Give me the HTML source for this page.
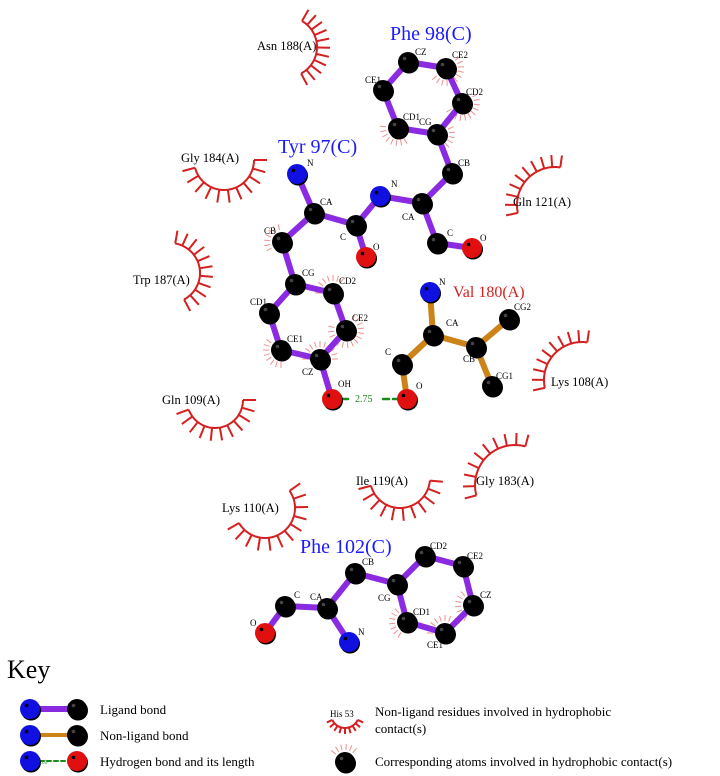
<!DOCTYPE html>
<html><head><meta charset="utf-8"><style>
html,body{margin:0;padding:0;background:#fff;}
svg{display:block;}
text{font-family:"Liberation Serif",serif;}
</style></head><body>
<svg id="s" width="720" height="776" viewBox="0 0 720 776" xmlns="http://www.w3.org/2000/svg">
<g id="arcs" stroke="#d42020" stroke-width="2" fill="none"></g>
<g id="pink" stroke="#f09090" stroke-width="1"></g>
<g id="bonds" stroke-linecap="round"></g>
<g id="atoms"></g>
<g fill="#000" font-size="9">
<!-- Phe98 atom labels -->
<text x="415" y="55">CZ</text><text x="452" y="58">CE2</text><text x="365" y="83">CE1</text><text x="466" y="95">CD2</text><text x="403" y="120">CD1</text><text x="419" y="125">CG</text><text x="458" y="166">CB</text><text x="402" y="220">CA</text><text x="391" y="187">N</text><text x="447" y="236">C</text><text x="480" y="241">O</text>
<!-- Tyr97 -->
<text x="307" y="166">N</text><text x="320" y="205">CA</text><text x="340" y="240">C</text><text x="373" y="250">O</text><text x="264" y="234">CB</text><text x="302" y="276">CG</text><text x="250" y="305">CD1</text><text x="339" y="284">CD2</text><text x="287" y="342">CE1</text><text x="352" y="321">CE2</text><text x="302" y="375">CZ</text><text x="338" y="387">OH</text>
<!-- Val180 -->
<text x="439" y="285">N</text><text x="446" y="326">CA</text><text x="463" y="362">CB</text><text x="514" y="310">CG2</text><text x="496" y="379">CG1</text><text x="385" y="355">C</text><text x="416" y="389">O</text>
<!-- Phe102 -->
<text x="294" y="598">C</text><text x="310" y="600">CA</text><text x="362" y="565">CB</text><text x="378" y="601">CG</text><text x="430" y="549">CD2</text><text x="467" y="559">CE2</text><text x="480" y="598">CZ</text><text x="413" y="615">CD1</text><text x="427" y="648">CE1</text><text x="358" y="635">N</text><text x="250" y="626">O</text>
</g>
<text x="355" y="402" font-size="10" fill="#1a8a1a">2.75</text>
<g fill="#1a1aff" font-size="20">
<text x="390" y="40">Phe 98(C)</text>
<text x="278" y="153">Tyr 97(C)</text>
<text x="300" y="553">Phe 102(C)</text>
</g>
<text x="453" y="297" font-size="16" fill="#d42020">Val 180(A)</text>
<g fill="#000" font-size="12.5">
<text x="257" y="50">Asn 188(A)</text>
<text x="181" y="162">Gly 184(A)</text>
<text x="513" y="206">Gln 121(A)</text>
<text x="133" y="284">Trp 187(A)</text>
<text x="551" y="386">Lys 108(A)</text>
<text x="162" y="404">Gln 109(A)</text>
<text x="356" y="485">Ile 119(A)</text>
<text x="476" y="485">Gly 183(A)</text>
<text x="222" y="512">Lys 110(A)</text>
</g>
<!-- Key -->
<text x="7" y="678" font-size="26" fill="#000">Key</text>
<g font-size="13" fill="#000">
<text x="100" y="714">Ligand bond</text>
<text x="100" y="740">Non-ligand bond</text>
<text x="100" y="766">Hydrogen bond and its length</text>
<text x="375" y="716">Non-ligand residues involved in hydrophobic</text>
<text x="375" y="733">contact(s)</text>
<text x="375" y="766">Corresponding atoms involved in hydrophobic contact(s)</text>
</g>
<text x="330" y="717" font-size="9" fill="#000">His 53</text>
<text x="40" y="764" font-size="6" fill="#1a8a1a">3.0</text>
</svg>
<script>
var NS="http://www.w3.org/2000/svg";
function el(p,t,a){var e=document.createElementNS(NS,t);for(var k in a)e.setAttribute(k,a[k]);document.getElementById(p).appendChild(e);return e;}
function arc(cx,cy,r,a0,a1,n,L){
  var d="";for(var i=0;i<=40;i++){var a=(a0+(a1-a0)*i/40)*Math.PI/180;d+=(i?"L":"M")+(cx+r*Math.cos(a)).toFixed(1)+" "+(cy+r*Math.sin(a)).toFixed(1);}
  el("arcs","path",{d:d});
  for(var i=0;i<n;i++){var a=(a0+(a1-a0)*i/(n-1))*Math.PI/180;
    el("arcs","line",{x1:cx+r*Math.cos(a),y1:cy+r*Math.sin(a),x2:cx+(r+L)*Math.cos(a),y2:cy+(r+L)*Math.sin(a)});}
}
arc(287,47,30,-60,62,11,13);   // Asn188
arc(224,160,30,0,165,11,13);   // Gly184
arc(555,205,38,168,278,10,12); // Gln121
arc(170,273,30,-80,62,11,13);  // Trp187
arc(582,380,38,168,278,10,12); // Lys108
arc(215,400,28,0,160,11,13);   // Gln109
arc(400,478,30,5,165,11,13);   // Ile119
arc(515,485,40,165,285,10,12); // Gly183
arc(265,508,30,-35,150,12,13); // Lys110
arc(345,714,14,25,155,9,6);    // key
function pink(x,y,a0,a1){for(var a=a0;a<=a1;a+=18){var r=a*Math.PI/180;el("pink","line",{x1:x+12*Math.cos(r),y1:y+12*Math.sin(r),x2:x+18*Math.cos(r),y2:y+18*Math.sin(r)});}}
pink(446,68,-40,140);pink(462,103,-30,150);pink(398,128,60,200);pink(437,134,-60,80);
pink(282,242,150,260);pink(333,293,180,320);pink(346,330,-60,200);pink(320,359,180,360);pink(281,350,90,220);
pink(473,605,120,260);pink(407,622,120,260);pink(445,633,180,330);pink(345,762,220,320);
var P="#8a2be2",O="#cc8418";
function b(x1,y1,x2,y2,c,w){el("bonds","line",{x1:x1,y1:y1,x2:x2,y2:y2,stroke:c,"stroke-width":w||6});}
function A(x,y,c){el("atoms","circle",{cx:x+1,cy:y+1.5,r:10,fill:"#000"});el("atoms","circle",{cx:x,cy:y,r:10,fill:c});el("atoms","circle",{cx:x-3.5,cy:y-3.5,r:1.8,fill:c=="#000"?"#444":"#000"});}
// Phe98
var f={CZ:[408,62],CE2:[446,68],CE1:[383,90],CD2:[462,103],CD1:[398,128],CG:[437,134],CB:[452,173],CA:[422,203],N:[380,196],C:[437,243],O:[472,248]};
var t={N:[297,174],CA:[314,213],C:[356,225],O:[366,257],CB:[282,242],CG:[295,284],CD1:[269,313],CD2:[333,293],CE1:[281,350],CE2:[346,330],CZ:[320,359],OH:[332,399]};
var v={N:[430,292],CA:[433,335],CB:[476,347],CG2:[509,319],CG1:[492,386],C:[402,364],O:[407,399]};
var p={C:[285,606],CA:[327,608],CB:[355,573],CG:[397,584],CD2:[425,556],CE2:[463,566],CZ:[473,605],CE1:[445,633],CD1:[407,622],N:[349,642],O:[265,633]};
function B(m,pairs,c){pairs.forEach(function(q){b(m[q[0]][0],m[q[0]][1],m[q[1]][0],m[q[1]][1],c);});}
B(f,[["CZ","CE2"],["CZ","CE1"],["CE2","CD2"],["CE1","CD1"],["CD1","CG"],["CD2","CG"],["CG","CB"],["CB","CA"],["CA","N"],["CA","C"],["C","O"]],P);
B(t,[["N","CA"],["CA","C"],["C","O"],["CA","CB"],["CB","CG"],["CG","CD1"],["CG","CD2"],["CD1","CE1"],["CD2","CE2"],["CE1","CZ"],["CE2","CZ"],["CZ","OH"]],P);
b(356,225,380,196,P);
B(v,[["N","CA"],["CA","CB"],["CB","CG2"],["CB","CG1"],["CA","C"],["C","O"]],O);
B(p,[["O","C"],["C","CA"],["CA","N"],["CA","CB"],["CB","CG"],["CG","CD2"],["CD2","CE2"],["CE2","CZ"],["CZ","CE1"],["CE1","CD1"],["CD1","CG"]],P);
el("bonds","line",{x1:342,y1:399,x2:352,y2:399,stroke:"#1a8a1a","stroke-width":2.5,"stroke-dasharray":"6 4"});
el("bonds","line",{x1:383,y1:399,x2:397,y2:399,stroke:"#1a8a1a","stroke-width":2.5,"stroke-dasharray":"6 4"});
function col(k){return k[0]=="N"?"#1010e0":(k[0]=="O"?"#e01010":"#000");}
[f,t,v,p].forEach(function(m){for(var k in m)A(m[k][0],m[k][1],col(k));});
// key
b(33,709,77,709,P,6);b(33,735,77,735,O,4);
el("bonds","line",{x1:40,y1:761,x2:68,y2:761,stroke:"#1a8a1a","stroke-width":2,"stroke-dasharray":"4 3"});
A(30,709,"#1010e0");A(77,709,"#000");A(30,735,"#1010e0");A(77,735,"#000");A(30,761,"#1010e0");A(77,761,"#e01010");A(345,762,"#000");
</script>
</body></html>
